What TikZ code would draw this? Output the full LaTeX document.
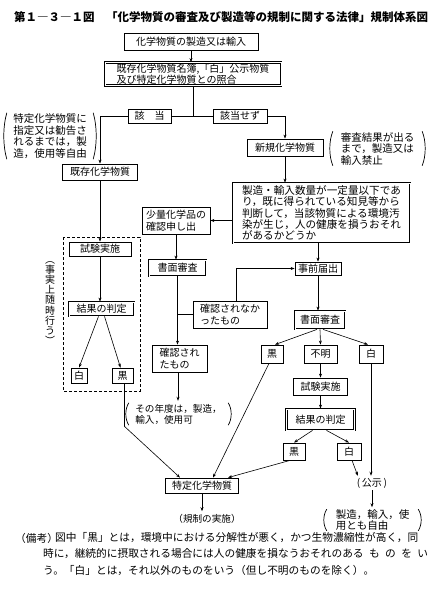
\documentclass[tikz,border=0pt]{standalone}
\usepackage{fontspec}
\setmainfont{Noto Sans CJK JP}
\usetikzlibrary{arrows.meta}
\newcommand\myparens[2]{%
  \draw[parenline] (#1.north west) .. controls +(-4,#2) and +(-4,-#2) .. (#1.south west);
  \draw[parenline] (#1.north east) .. controls +(4,#2) and +(4,-#2) .. (#1.south east);}
\begin{document}
\begin{tikzpicture}[x=1pt,y=-1pt,
  every node/.style={inner sep=0pt, font=\fontsize{10}{11.5}\selectfont},
  box/.style={draw, line width=0.8pt, align=center},
  dbox/.style={draw, line width=0.8pt, double, double distance=1pt, align=center},
  arr/.style={-{Stealth[length=4pt,width=3pt]}, line width=0.6pt},
  ln/.style={line width=0.6pt},
  parenline/.style={line width=0.7pt},
  note/.style={align=left, font=\fontsize{10.5}{11.5}\selectfont},
  remark/.style={anchor=west, font=\fontsize{10.7}{12}\selectfont}]
\useasboundingbox[fill=white] (0,0) rectangle (441,589);

\node[font=\bfseries\fontsize{11.5}{13}\selectfont, anchor=west] (title) at (14,17) {第１―３―１図　「化学物質の審査及び製造等の規制に関する法律」規制体系図};

\node[box, minimum width=134, minimum height=17] (b1) at (191,42) {化学物質の製造又は輸入};
\node[dbox, minimum width=176, minimum height=23, align=left] (b2) at (193,74) {既存化学物質名簿,「白」公示物質\\及び特定化学物質との照合};
\node[box, minimum width=43, minimum height=14] (ga) at (149.5,116) {該\hspace{10pt}当};
\node[box, minimum width=54, minimum height=14] (nga) at (240,116) {該当せず};
\node[box, minimum width=75, minimum height=16] (kizon) at (100,172) {既存化学物質};
\node[box, minimum width=76, minimum height=17] (shinki) at (285,147.5) {新規化学物質};
\node[note, minimum width=86, minimum height=46] (n1) at (50,136) {特定化学物質に\\指定又は勧告さ\\れるまでは，製\\造，使用等自由};
\node[note, minimum width=89, minimum height=34] (n2) at (377.5,148.5) {審査結果が出る\\まで，製造又は\\輸入禁止};
\node[dbox, align=left, minimum width=177, minimum height=60, font=\fontsize{10.6}{11.3}\selectfont] (big) at (321.5,213) {製造・輸入数量が一定量以下であ\\り，既に得られている知見等から\\判断して，当該物質による環境汚\\染が生じ，人の健康を損うおそれ\\があるかどうか};
\node[box, align=left, minimum width=68, minimum height=27] (shoryo) at (176,220.5) {少量化学品の\\確認申し出};
\node[box, minimum width=46, minimum height=13] (jizen) at (318,268.5) {事前届出};
\node[dbox, minimum width=50, minimum height=18] (sm2) at (320,320) {書面審査};
\node[dbox, minimum width=57, minimum height=16] (sm1) at (177.5,268) {書面審査};
\node[box, align=left, minimum width=74, minimum height=27] (nakatta) at (230,314.5) {確認されなか\\ったもの};
\node[box, align=left, minimum width=55, minimum height=27] (sareta) at (179.5,358.5) {確認され\\たもの};
\node[note, minimum width=99, minimum height=22, font=\fontsize{9.6}{11}\selectfont] (n3) at (178.5,414) {その年度は，製造，\\輸入，使用可};

\draw[dashed, line width=0.7pt, dash pattern=on 3pt off 2pt] (63,237) rectangle (140,391);
\node[box, minimum width=62, minimum height=14] (sk1) at (100,249) {試験実施};
\node[dbox, minimum width=65, minimum height=14] (kk1) at (101.5,309) {結果の判定};
\node[box, minimum width=16, minimum height=15] (w1) at (79,375.5) {白};
\node[box, minimum width=21, minimum height=15] (k1) at (122.5,375.5) {黒};
\node[align=center, font=\fontsize{10}{10.2}\selectfont] (vt) at (50,303) {︵\\事\\実\\上\\随\\時\\行\\う\\︶};

\node[box, minimum width=73, minimum height=15] (tok) at (202,485.5) {特定化学物質};
\node[box, minimum width=22, minimum height=18] (k2) at (272,354) {黒};
\node[box, minimum width=33, minimum height=18] (fu) at (320.5,354) {不明};
\node[box, minimum width=24, minimum height=18] (w2) at (371,354) {白};
\node[box, minimum width=54, minimum height=17] (sk2) at (320.5,386.5) {試験実施};
\node[dbox, minimum width=68, minimum height=21] (kk2) at (320.5,419.5) {結果の判定};
\node[box, minimum width=22, minimum height=17] (k3) at (294,451.5) {黒};
\node[box, minimum width=24, minimum height=17] (w3) at (349,451.5) {白};
\node[inner sep=2pt] (koji) at (372,483) {(\,公示\,)};
\node[note, minimum width=91, minimum height=21] (n4) at (372.5,520) {製造，輸入，使\\用とも自由};
\node[inner sep=3pt, font=\fontsize{9.6}{11}\selectfont] (kisei) at (207,519) {（規制の実施）};

\myparens{n1}{14}
\myparens{n2}{10}
\myparens{n3}{6}
\myparens{n4}{6}

\node[remark] (r0) at (15,538) {（備考）};
\node[remark] (r1) at (55,538) {図中「黒」とは，環境中における分解性が悪く，かつ生物濃縮性が高く，同};
\node[remark] (r2) at (43,554) {\makebox[385pt][s]{時に，継続的に摂取される場合には人の健康を損なうおそれのある も の を い}};
\node[remark] (r3) at (43,570) {う。「白」とは，それ以外のものをいう（但し不明のものを除く）。};

% connectors
\draw[arr] (b1.south) -- (b1.south |- b2.north);
\draw[ln] (b2.south) -- (b2.south |- ga.east);
\draw[ln] (ga.east) -- (nga.west);
\draw[arr] (ga.west) -| (kizon.north);
\draw[arr] (nga.east) -| (shinki.north);
\draw[arr] (shinki.south) -- (shinki.south |- big.north);
\draw[arr] (big.west |- shoryo.east) -- (shoryo.east);
\draw[arr] (jizen.north |- big.south) -- (jizen.north);
\draw[arr] (jizen.south) -- (jizen.south |- sm2.north);
\draw[arr] (shoryo.south) -- (shoryo.south |- sm1.north);
\draw[arr] (sm1.south) -- (sm1.south |- sareta.north);
\draw[ln] (sm1.south |- nakatta.west) -- (nakatta.west);
\draw[arr] ([xshift=6pt]nakatta.north) |- (jizen.west);
\draw[arr] ([xshift=-1.5pt]sareta.south) -- ([xshift=-0.5pt,yshift=2pt]n3.north);

\draw[arr] (kizon.south) -- (kizon.south |- sk1.north);
\draw[arr] (sk1.south) -- (sk1.south |- kk1.north);
\draw[arr] ([xshift=-3pt]kk1.south) -- (w1.north);
\draw[arr] ([xshift=3pt]kk1.south) -- ([xshift=-2pt]k1.north);
\draw[arr] ([xshift=2pt]k1.south) -- ++(0,43) -- ([xshift=-22pt]tok.north);
\draw[arr] ([xshift=-3pt]k2.south) -- ([xshift=11pt]tok.north);
\draw[arr] ([xshift=-4pt]k3.south) -- ([xshift=26pt]tok.north);

\draw[arr] ([xshift=-3pt]sm2.south) -- ([xshift=3pt]k2.north);
\draw[arr] (sm2.south) -- (fu.north);
\draw[arr] ([xshift=3pt]sm2.south) -- ([xshift=-3pt]w2.north);
\draw[arr] (fu.south) -- (sk2.north);
\draw[arr] (sk2.south) -- (kk2.north);
\draw[arr] ([xshift=-8pt]kk2.south) -- (k3.north);
\draw[arr] ([xshift=6pt]kk2.south) -- (w3.north);
\draw[arr] ([xshift=3pt]w3.south) -- ([xshift=3pt]koji.north west);
\draw[arr] (w2.south) -- (w2.south |- koji.north);
\draw[arr] (koji.south) -- ([yshift=2pt]koji.south |- n4.north);
\draw[arr] (tok.south) -- (tok.south |- kisei.north);
\end{tikzpicture}
\end{document}
